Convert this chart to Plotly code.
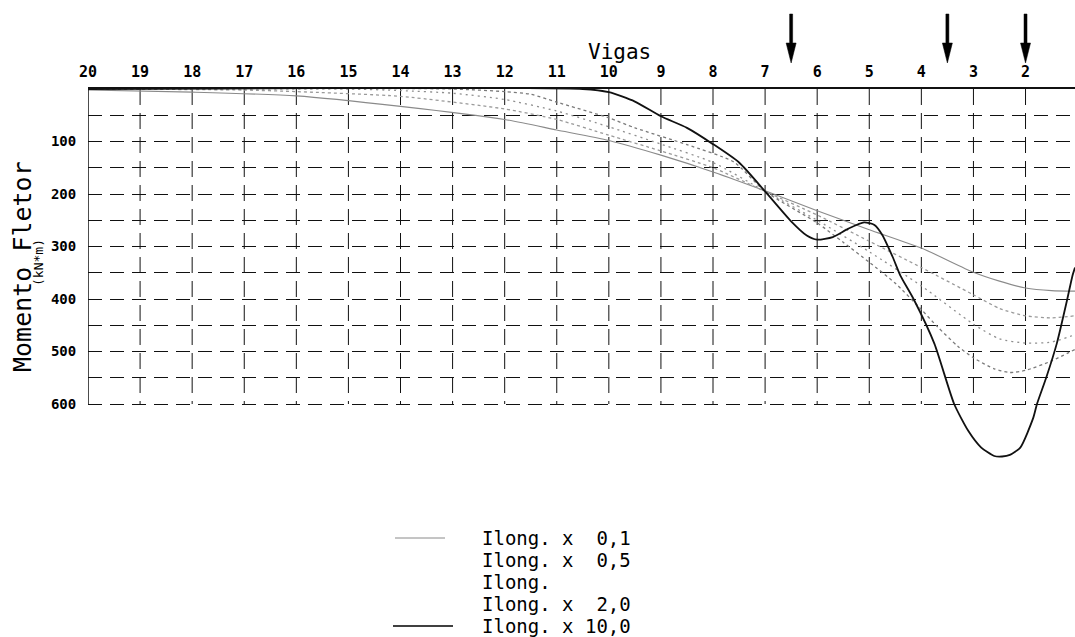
import plotly.graph_objects as go

# Beam numbers along the top axis and bending-moment grid values
beam_ticks = list(range(20, 1, -1))
moment_ticks = list(range(50, 601, 50))
moment_labels = [str(m) if m % 100 == 0 else "" for m in moment_ticks]
load_positions = [6.5, 3.5, 2.0]

series_names = [
    "Ilong.\u00a0x\u00a0\u00a00,1",
    "Ilong.\u00a0x\u00a0\u00a00,5",
    "Ilong.",
    "Ilong.\u00a0x\u00a0\u00a02,0",
    "Ilong.\u00a0x\u00a010,0",
]

# Ilong. x 0,1
vigas_01 = [20, 18, 16, 14, 12, 11, 10, 9, 8, 7, 6, 5, 4, 3, 2.5, 2, 1.5, 1.05]
mom_01 = [2, 6, 13, 33, 58, 78, 98, 126, 158, 194, 232, 268, 303, 349, 366, 379, 384, 385]

# Ilong. x 0,5
vigas_05 = [20, 17, 16, 14, 12, 11, 10, 9, 8, 7, 6, 5, 4, 3, 2.5, 2, 1.5, 1.05]
mom_05 = [0, 2, 5, 14, 38, 58, 88, 118, 150, 195, 240, 290, 340, 392, 418, 432, 436, 432]

# Ilong.
vigas_10 = [20, 15, 14, 13, 12, 11, 10, 9, 8, 7, 6, 5, 4, 3, 2.5, 2, 1.5, 1.05]
mom_10 = [0, 0, 3, 8, 20, 42, 72, 105, 140, 195, 250, 310, 375, 448, 476, 484, 482, 468]

# Ilong. x 2,0
vigas_20 = [20, 13, 12, 11.5, 11, 10, 9.5, 8.5, 7.6, 7, 6, 5.5, 5, 4.5, 4, 3.7, 3.3, 3, 2.6, 2.3, 2, 1.5, 1.05]
mom_20 = [0, 0, 5, 10, 25, 55, 74, 106, 139, 195, 255, 292, 330, 370, 420, 452, 490, 512, 533, 540, 536, 518, 496]

# Ilong. x 10,0
vigas_100 = [20, 10.5, 10, 9.5, 9, 8.5, 8, 7.5, 7, 6.5, 6.2, 6, 5.7, 5.4, 5.1, 4.9, 4.75,
             4.55, 4.4, 4.15, 3.75, 3.37, 3.1, 2.85, 2.6, 2.45, 2.3, 2.1, 1.85, 1.78,
             1.6, 1.4, 1.2, 1.1, 1.05]
mom_100 = [0, 0, 6, 24, 52, 74, 105, 140, 195, 252, 279, 287, 282, 266, 254, 259, 278,
           320, 356, 400, 485, 600, 651, 683, 699, 700, 697, 683, 626, 600,
           549, 485, 401, 356, 340]

series_x = [vigas_01, vigas_05, vigas_10, vigas_20, vigas_100]
series_y = [mom_01, mom_05, mom_10, mom_20, mom_100]
series_lines = [
    dict(color="#8a8a8a", width=1.1),
    dict(color="#9a9a9a", width=1.3, dash="dot"),
    dict(color="#8f8f8f", width=1.3, dash="2px,4px"),
    dict(color="#7a7a7a", width=1.3, dash="dot"),
    dict(color="#111111", width=1.8),
]

MONO = "DejaVu Sans Mono"
W, H = 1075, 637
ML, MT = 88, 89
PLOT_H = 378
PLOT_W = W - ML


def px_x(p):
    return (p - ML) / PLOT_W


def px_y(p):
    return (MT + PLOT_H - p) / PLOT_H


fig = go.Figure()
for xs, ys, ln in zip(series_x, series_y, series_lines):
    fig.add_trace(go.Scatter(
        x=xs, y=ys, mode="lines", showlegend=False,
        line=dict(shape="spline", smoothing=0.6, **ln),
    ))

shapes = []
# dashed vertical grid, stopping at the 600 line
for v in beam_ticks[1:]:
    shapes.append(dict(type="line", xref="x", yref="y", x0=v, x1=v, y0=0, y1=600,
                       line=dict(color="#111", width=1, dash="16px,8px"), layer="below"))
# left frame line
shapes.append(dict(type="line", xref="x", yref="y", x0=20, x1=20, y0=0, y1=600,
                   line=dict(color="#111", width=1.5)))
# load arrows above the deck
for v in load_positions:
    shapes.append(dict(type="path", xref="x", yref="paper", xsizemode="pixel", ysizemode="pixel",
                       xanchor=v, yanchor=px_y(63),
                       path="M -1.5,49 L 1.5,49 L 1.5,20 L 5,20 L 0,0 L -5,20 L -1.5,20 Z",
                       fillcolor="black", line=dict(color="black", width=0.5)))

annotations = []
# legend rows
row_y = [538, 560, 582, 604, 626]
for name, ry in zip(series_names, row_y):
    annotations.append(dict(text=name, xref="paper", yref="paper", x=px_x(480), y=px_y(ry),
                            xanchor="left", yanchor="middle", showarrow=False,
                            font=dict(family=MONO, size=19, color="black")))
shapes.append(dict(type="line", xref="paper", yref="paper", x0=px_x(395), x1=px_x(445),
                   y0=px_y(row_y[0]), y1=px_y(row_y[0]), line=dict(color="#8a8a8a", width=1)))
shapes.append(dict(type="line", xref="paper", yref="paper", x0=px_x(393), x1=px_x(453),
                   y0=px_y(row_y[4]), y1=px_y(row_y[4]), line=dict(color="black", width=1.5)))

# axis titles
annotations.append(dict(text="Vigas", xref="paper", yref="paper", x=px_x(619), y=px_y(52),
                        xanchor="center", yanchor="middle", showarrow=False,
                        font=dict(family=MONO, size=21, color="black")))
annotations.append(dict(text="Momento\u00a0Fletor", xref="paper", yref="paper", x=px_x(22), y=px_y(267),
                        xanchor="center", yanchor="middle", showarrow=False, textangle=-90,
                        font=dict(family=MONO, size=25, color="black")))
annotations.append(dict(text="(kN*m)", xref="paper", yref="paper", x=px_x(38), y=px_y(263),
                        xanchor="center", yanchor="middle", showarrow=False, textangle=-90,
                        font=dict(family=MONO, size=13, color="black")))

fig.update_layout(
    width=W, height=H,
    margin=dict(l=ML, r=0, t=MT, b=H - MT - PLOT_H, pad=0),
    paper_bgcolor="white", plot_bgcolor="white",
    shapes=shapes, annotations=annotations,
    xaxis=dict(range=[20, 1.05], side="top", tickmode="array", tickvals=beam_ticks,
               ticks="outside", ticklen=4, tickcolor="rgba(0,0,0,0)",
               showgrid=False, zeroline=False, showline=True, linecolor="#111", linewidth=1.5,
               tickfont=dict(family=MONO, size=15, color="black", weight="bold")),
    yaxis=dict(range=[720, 0], tickmode="array", tickvals=moment_ticks, ticktext=moment_labels,
               ticks="outside", ticklen=8, tickcolor="rgba(0,0,0,0)",
               showgrid=True, gridcolor="#111", gridwidth=1, griddash="14px,8px",
               zeroline=False, showline=False,
               tickfont=dict(family=MONO, size=14, color="black", weight="bold")),
)

fig.write_html("out.html")
